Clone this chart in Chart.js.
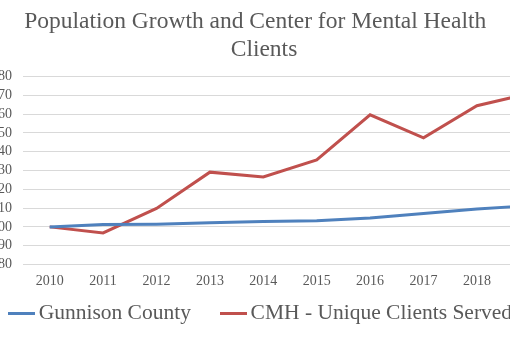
<!DOCTYPE html>
<html>
<head>
<meta charset="utf-8">
<script src="https://cdn.jsdelivr.net/npm/chart.js@4/dist/chart.umd.min.js"></script>
<style>
  html, body { margin: 0; padding: 0; background: #ffffff; }
  #wrap { position: absolute; left: 0; top: 0; width: 510px; height: 340px; overflow: hidden; background: #fff; }
  #c { position: absolute; left: -29px; top: 0; }
</style>
</head>
<body>
<div id="wrap"><canvas id="c" width="594" height="340" style="width:594px;height:340px"></canvas></div>
<script>
// ---- data ----
const years = ['2010', '2011', '2012', '2013', '2014', '2015', '2016', '2017', '2018', '2019'];
const gunnisonCounty = [100, 101.2, 101.4, 102.2, 102.8, 103.3, 104.7, 107.1, 109.5, 111.3];
const cmhClients = [100, 96.8, 109.8, 129.1, 126.5, 135.6, 159.6, 147.3, 164.4, 171];
const seriesNames = ['Gunnison County', 'CMH - Unique Clients Served'];
const yMin = 80, yMax = 180, yStep = 10;
const titleLines = ['Population Growth and Center for Mental Health   ', 'Clients'];

const BLUE = '#4F81BD', RED = '#C0504D', TEXT = '#595959', GRID = '#D9D9D9';
const SERIF = '"Liberation Serif", "Times New Roman", serif';

function legendLine(color) {
  const c = document.createElement('canvas');
  c.width = 27; c.height = 3;
  const g = c.getContext('2d');
  g.fillStyle = color;
  g.fillRect(0, 0, 27, 3);
  return c;
}
const legendImgs = [legendLine(BLUE), legendLine(RED)];

new Chart(document.getElementById('c'), {
  type: 'line',
  data: {
    labels: years,
    datasets: [
      { label: seriesNames[0], data: gunnisonCounty, borderColor: BLUE, backgroundColor: BLUE,
        borderWidth: 3, pointRadius: 0, tension: 0, fill: false },
      { label: seriesNames[1], data: cmhClients, borderColor: RED, backgroundColor: RED,
        borderWidth: 3, pointRadius: 0, tension: 0, fill: false }
    ]
  },
  options: {
    responsive: false,
    animation: false,
    devicePixelRatio: 1,
    layout: { padding: { left: 0, right: 8, top: 0, bottom: 6 } },
    plugins: {
      title: {
        display: true,
        text: titleLines,
        color: TEXT,
        font: { family: SERIF, size: 23.5, weight: 'normal', lineHeight: 1.2 },
        padding: { top: 8, bottom: 12 }
      },
      legend: {
        position: 'bottom',
        labels: {
          color: TEXT,
          font: { family: SERIF, size: 21.5 },
          usePointStyle: true,
          pointStyleWidth: 12,
          padding: 10,
          generateLabels(chart) {
            const items = Chart.defaults.plugins.legend.labels.generateLabels(chart);
            items.forEach((it, i) => {
              it.pointStyle = legendImgs[i];
              if (i === 0) it.text = it.text + '     ';
            });
            return items;
          }
        }
      },
      tooltip: { enabled: false }
    },
    scales: {
      x: {
        offset: true,
        grid: { display: false, drawTicks: false },
        border: { display: false },
        ticks: { color: TEXT, font: { family: SERIF, size: 14 }, padding: 8, maxRotation: 0, autoSkip: false },
        afterFit(s) { s.height = 28; }
      },
      y: {
        min: yMin, max: yMax,
        grid: { color: GRID, lineWidth: 1, drawTicks: false },
        border: { display: false },
        ticks: { stepSize: yStep, autoSkip: false, color: TEXT, font: { family: SERIF, size: 14 }, padding: 11 },
        afterFit(s) { s.width = 52; }
      }
    }
  }
});
</script>
</body>
</html>
